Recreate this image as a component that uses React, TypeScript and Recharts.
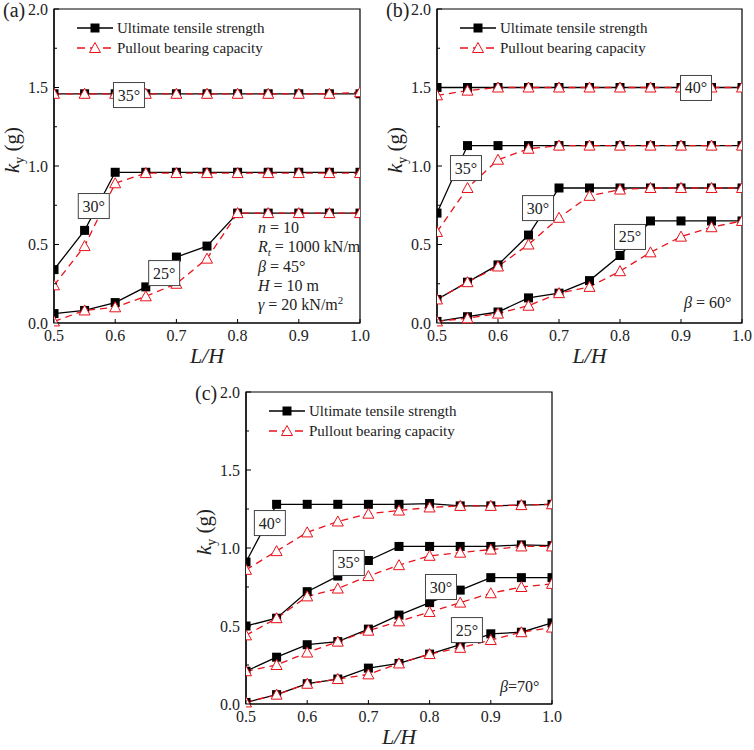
import React from 'react';
import { LineChart, Line, XAxis, YAxis, ReferenceArea, ReferenceDot } from 'recharts';

// L/H values shared by all three panels
const lh = [0.5, 0.55, 0.6, 0.65, 0.7, 0.75, 0.8, 0.85, 0.9, 0.95, 1.0];
const xTicks = [0.5, 0.6, 0.7, 0.8, 0.9, 1.0];
const yTicks = [0, 0.25, 0.5, 0.75, 1.0, 1.25, 1.5, 1.75, 2.0];

// (a) beta = 45
const aUts35 = [1.46, 1.46, 1.46, 1.46, 1.46, 1.46, 1.46, 1.46, 1.46, 1.46, 1.46];
const aPbc35 = [1.46, 1.46, 1.46, 1.46, 1.46, 1.46, 1.46, 1.46, 1.46, 1.46, 1.47];
const aUts30 = [0.34, 0.59, 0.96, 0.96, 0.96, 0.96, 0.96, 0.96, 0.96, 0.96, 0.96];
const aPbc30 = [0.24, 0.49, 0.89, 0.955, 0.955, 0.955, 0.955, 0.955, 0.955, 0.955, 0.955];
const aUts25 = [0.06, 0.08, 0.13, 0.23, 0.42, 0.49, 0.7, 0.7, 0.7, 0.7, 0.7];
const aPbc25 = [0.01, 0.08, 0.1, 0.17, 0.25, 0.41, 0.7, 0.7, 0.7, 0.7, 0.7];

// (b) beta = 60
const bUts40 = [1.5, 1.5, 1.5, 1.5, 1.5, 1.5, 1.5, 1.5, 1.5, 1.5, 1.5];
const bPbc40 = [1.45, 1.48, 1.5, 1.5, 1.5, 1.5, 1.5, 1.5, 1.5, 1.5, 1.5];
const bUts35 = [0.7, 1.13, 1.13, 1.13, 1.13, 1.13, 1.13, 1.13, 1.13, 1.13, 1.13];
const bPbc35 = [0.58, 0.86, 1.04, 1.11, 1.13, 1.13, 1.13, 1.13, 1.13, 1.13, 1.13];
const bUts30 = [0.15, 0.26, 0.37, 0.56, 0.86, 0.86, 0.86, 0.86, 0.86, 0.86, 0.86];
const bPbc30 = [0.15, 0.26, 0.36, 0.5, 0.67, 0.81, 0.85, 0.86, 0.86, 0.86, 0.86];
const bUts25 = [0.01, 0.04, 0.07, 0.16, 0.19, 0.27, 0.43, 0.65, 0.65, 0.65, 0.65];
const bPbc25 = [0.01, 0.03, 0.06, 0.11, 0.19, 0.23, 0.33, 0.45, 0.55, 0.61, 0.65];

// (c) beta = 70
const cUts40 = [0.91, 1.28, 1.28, 1.28, 1.28, 1.28, 1.285, 1.27, 1.27, 1.275, 1.28];
const cPbc40 = [0.86, 0.98, 1.1, 1.17, 1.22, 1.24, 1.26, 1.27, 1.27, 1.275, 1.28];
const cUts35 = [0.5, 0.55, 0.72, 0.82, 0.92, 1.01, 1.01, 1.01, 1.01, 1.02, 1.015];
const cPbc35 = [0.44, 0.55, 0.69, 0.74, 0.82, 0.89, 0.95, 0.97, 0.99, 1.01, 1.01];
const cUts30 = [0.21, 0.3, 0.38, 0.4, 0.48, 0.57, 0.65, 0.73, 0.81, 0.81, 0.81];
const cPbc30 = [0.21, 0.25, 0.33, 0.4, 0.47, 0.53, 0.59, 0.65, 0.71, 0.75, 0.77];
const cUts25 = [0.01, 0.06, 0.13, 0.16, 0.23, 0.26, 0.32, 0.38, 0.45, 0.46, 0.52];
const cPbc25 = [0.01, 0.06, 0.13, 0.16, 0.19, 0.26, 0.32, 0.36, 0.41, 0.46, 0.49];

// friction angle labels (text, and where the box sits in data units)
const aAngles = [
  { text: '35°', x: 0.6225, y: 1.452 },
  { text: '30°', x: 0.565, y: 0.745 },
  { text: '25°', x: 0.68, y: 0.318 },
];
const bAngles = [
  { text: '40°', x: 0.9246, y: 1.497 },
  { text: '35°', x: 0.5475, y: 0.987 },
  { text: '30°', x: 0.6656, y: 0.732 },
  { text: '25°', x: 0.8164, y: 0.548 },
];
const cAngles = [
  { text: '40°', x: 0.539, y: 1.16 },
  { text: '35°', x: 0.668, y: 0.904 },
  { text: '30°', x: 0.8186, y: 0.75 },
  { text: '25°', x: 0.861, y: 0.474 },
];

const FONT = '"Liberation Serif", "Times New Roman", serif';
const RED = '#e8121a';

function buildRows(uts: number[][], pbc: number[][]) {
  return lh.map((x, i) => {
    const row: Record<string, number> = { x };
    uts.forEach((s, k) => (row['u' + k] = s[i]));
    pbc.forEach((s, k) => (row['p' + k] = s[i]));
    return row;
  });
}

const Square = (p: any) => (
  <rect key={'s' + p.index} x={p.cx - 4.5} y={p.cy - 4.5} width={9} height={9} fill="#000" />
);

const Triangle = (p: any) => (
  <polygon
    key={'t' + p.index}
    points={`${p.cx},${p.cy - 5.5} ${p.cx - 5.5},${p.cy + 4.5} ${p.cx + 5.5},${p.cy + 4.5}`}
    fill="#fff"
    stroke={RED}
    strokeWidth={1}
  />
);

const YTick = (p: any) => {
  const v = p.payload.value;
  const major = Math.abs(v * 2 - Math.round(v * 2)) < 1e-6;
  const ax = p.x + 6;
  return (
    <g>
      <line x1={ax} x2={ax + (major ? 5 : 3)} y1={p.y} y2={p.y} stroke="#000" />
      {major && (
        <text x={p.x} y={p.y + 5.5} textAnchor="end" fontFamily={FONT} fontSize={16} fill="#222">
          {v.toFixed(1)}
        </text>
      )}
    </g>
  );
};

const XTick = (p: any) => {
  const ay = p.y - 6;
  return (
    <g>
      <line x1={p.x} x2={p.x} y1={ay} y2={ay - 4} stroke="#000" />
      <text x={p.x} y={ay + 18} textAnchor="middle" fontFamily={FONT} fontSize={16} fill="#222">
        {p.payload.value.toFixed(1)}
      </text>
    </g>
  );
};

const KyLabel = (p: any) => {
  const vb = p.viewBox;
  const cx = vb.x + vb.width - 42;
  const cy = vb.y + vb.height / 2 - 16;
  return (
    <text
      transform={`translate(${cx},${cy}) rotate(-90)`}
      textAnchor="middle"
      fontFamily={FONT}
      fontSize={21}
      fill="#222"
      dy={7}
    >
      <tspan fontStyle="italic">k</tspan>
      <tspan fontSize={14} dy={5}>y</tspan>
      <tspan dy={-5}> (g)</tspan>
    </text>
  );
};

const LhLabel = (p: any) => {
  const vb = p.viewBox;
  return (
    <text
      x={vb.x + vb.width / 2}
      y={vb.y + 40}
      textAnchor="middle"
      fontFamily={FONT}
      fontSize={22}
      fontStyle="italic"
      fill="#222"
    >
      L/H
    </text>
  );
};

const AngleBox = (text: string) => (p: any) => (
  <g>
    <rect x={p.cx - 15.5} y={p.cy - 12.5} width={31} height={25} fill="#fff" stroke="#444" strokeWidth={1} />
    <text x={p.cx} y={p.cy + 5.5} textAnchor="middle" fontFamily={FONT} fontSize={16} fill="#222">
      {text}
    </text>
  </g>
);

function LegendBox({ left, top }: { left: number; top: number }) {
  const row: React.CSSProperties = { display: 'flex', alignItems: 'center', height: 20 };
  return (
    <div style={{ position: 'absolute', left, top, fontFamily: FONT, fontSize: 15, color: '#222' }}>
      <div style={row}>
        <svg width={36} height={14}>
          <line x1={0} x2={36} y1={7} y2={7} stroke="#000" strokeWidth={1.5} />
          <rect x={13.5} y={2.5} width={9} height={9} fill="#000" />
        </svg>
        <span style={{ marginLeft: 4 }}>Ultimate tensile strength</span>
      </div>
      <div style={row}>
        <svg width={36} height={14}>
          <line x1={0} x2={36} y1={7} y2={7} stroke={RED} strokeWidth={1.5} strokeDasharray="8 5" />
          <polygon points="18,1.5 12.5,11.5 23.5,11.5" fill="#fff" stroke={RED} />
        </svg>
        <span style={{ marginLeft: 4 }}>Pullout bearing capacity</span>
      </div>
    </div>
  );
}

interface PanelProps {
  left: number;
  top: number;
  width: number;
  height: number;
  margin: { top: number; right: number; bottom: number; left: number };
  uts: number[][];
  pbc: number[][];
  angles: { text: string; x: number; y: number }[];
  tag: string;
  children?: React.ReactNode;
}

function Panel({ left, top, width, height, margin, uts, pbc, angles, tag, children }: PanelProps) {
  const rows = buildRows(uts, pbc);
  const plotLeft = margin.left + 40;
  return (
    <div style={{ position: 'absolute', left, top, width, height }}>
      <LineChart width={width} height={height} data={rows} margin={margin} style={{ overflow: 'visible' }}>
        <XAxis
          dataKey="x"
          type="number"
          domain={[0.5, 1.0]}
          ticks={xTicks}
          height={30}
          tickLine={false}
          tickSize={0}
          tickMargin={6}
          tick={<XTick />}
          stroke="#000"
          strokeWidth={1.2}
          label={<LhLabel />}
          allowDataOverflow
        />
        <YAxis
          type="number"
          domain={[0, 2]}
          ticks={yTicks}
          width={40}
          tickLine={false}
          tickSize={0}
          tickMargin={6}
          tick={<YTick />}
          stroke="#000"
          strokeWidth={1.2}
          label={<KyLabel />}
          interval={0}
        />
        <ReferenceArea x1={0.5} x2={1.0} y1={0} y2={2} fill="none" stroke="#000" strokeWidth={1.2} ifOverflow="visible" />
        {uts.map((_, k) => (
          <Line
            key={'u' + k}
            dataKey={'u' + k}
            type="linear"
            stroke="#000"
            strokeWidth={1.3}
            dot={Square}
            activeDot={false}
            isAnimationActive={false}
          />
        ))}
        {pbc.map((_, k) => (
          <Line
            key={'p' + k}
            dataKey={'p' + k}
            type="linear"
            stroke={RED}
            strokeWidth={1.3}
            strokeDasharray="7 5"
            dot={Triangle}
            activeDot={false}
            isAnimationActive={false}
          />
        ))}
        {angles.map((a) => (
          <ReferenceDot key={a.text} x={a.x} y={a.y} r={0} shape={AngleBox(a.text)} ifOverflow="visible" />
        ))}
      </LineChart>
      <LegendBox left={plotLeft + 23} top={margin.top + 9} />
      <div style={{ position: 'absolute', left: plotLeft - 51, top: margin.top - 10, fontFamily: FONT, fontSize: 20, color: '#222' }}>
        {tag}
      </div>
      {children}
    </div>
  );
}

const subStyle: React.CSSProperties = { fontSize: 11, position: 'relative', top: 4, fontStyle: 'italic', lineHeight: 0 };
const supStyle: React.CSSProperties = { fontSize: 11, position: 'relative', top: -6, lineHeight: 0 };

export default function App() {
  const txt: React.CSSProperties = { position: 'absolute', fontFamily: FONT, fontSize: 16, color: '#222', lineHeight: '19.3px', whiteSpace: 'nowrap' };
  return (
    <div style={{ position: 'absolute', left: 0, top: 0, width: 754, height: 750, background: '#fff' }}>
      <Panel
        left={0}
        top={0}
        width={374}
        height={375}
        margin={{ top: 9, right: 14, bottom: 22, left: 14 }}
        uts={[aUts35, aUts30, aUts25]}
        pbc={[aPbc35, aPbc30, aPbc25]}
        angles={aAngles}
        tag="(a)"
      >
        <div style={{ ...txt, left: 258, top: 218 }}>
          <div><i>n</i> = 10</div>
          <div><i>R</i><span style={subStyle}>t</span> = 1000 kN/m</div>
          <div><i>β</i> = 45°</div>
          <div><i>H</i> = 10 m</div>
          <div><i>γ</i> = 20 kN/m<span style={supStyle}>2</span></div>
        </div>
      </Panel>
      <Panel
        left={374}
        top={0}
        width={380}
        height={375}
        margin={{ top: 9, right: 12, bottom: 22, left: 23 }}
        uts={[bUts40, bUts35, bUts30, bUts25]}
        pbc={[bPbc40, bPbc35, bPbc30, bPbc25]}
        angles={bAngles}
        tag="(b)"
      >
        <div style={{ ...txt, left: 310, top: 293 }}>
          <i>β</i> = 60°
        </div>
      </Panel>
      <Panel
        left={180}
        top={375}
        width={400}
        height={375}
        margin={{ top: 17, right: 28, bottom: 16, left: 26 }}
        uts={[cUts40, cUts35, cUts30, cUts25]}
        pbc={[cPbc40, cPbc35, cPbc30, cPbc25]}
        angles={cAngles}
        tag="(c)"
      >
        <div style={{ ...txt, left: 320, top: 302 }}>
          <i>β</i>=70°
        </div>
      </Panel>
    </div>
  );
}
